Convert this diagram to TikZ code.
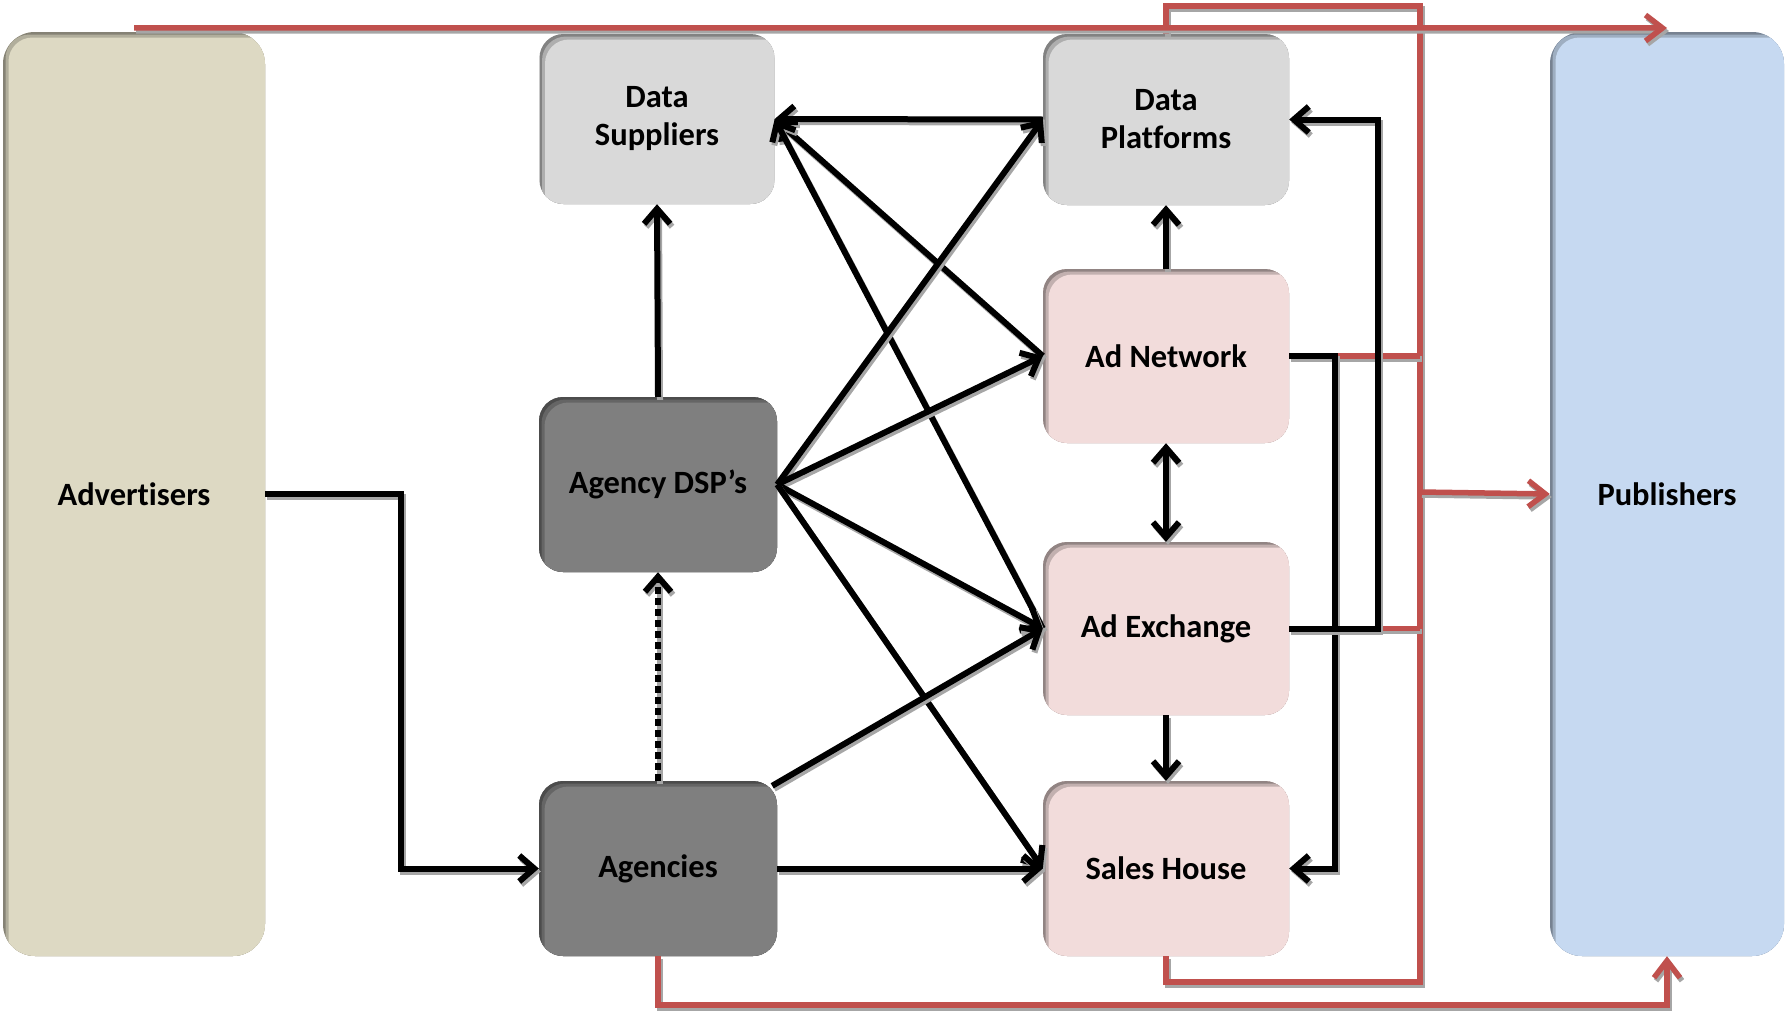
\documentclass[tikz,border=0pt]{standalone}
\usepackage{fontspec}
\setmainfont{Carlito}[Ligatures=NoCommon]
\usetikzlibrary{arrows.meta}
\definecolor{advc}{HTML}{DDD9C3}
\definecolor{pubc}{HTML}{C6D9F1}
\definecolor{datac}{HTML}{D9D9D9}
\definecolor{agc}{HTML}{7F7F7F}
\definecolor{pinkc}{HTML}{F2DCDB}
\definecolor{redc}{HTML}{C0504D}
\begin{document}
\begin{tikzpicture}[x=1pt,y=-1pt,
  box/.style={rectangle, rounded corners=24pt, fill=#1, text=black,
    font=\fontsize{32.5}{38}\selectfont\bfseries, align=center, inner sep=0pt,
    path picture={
      \fill[#1!60!black] (path picture bounding box.south west) rectangle (path picture bounding box.north east);
      \fill[#1!80!black, rounded corners=24pt] ([shift={(2.5pt,-2.5pt)}]path picture bounding box.north west) rectangle ([shift={(40pt,-40pt)}]path picture bounding box.south east);
      \fill[#1, rounded corners=24pt] ([shift={(5.5pt,-5.5pt)}]path picture bounding box.north west) rectangle ([shift={(40pt,-40pt)}]path picture bounding box.south east);
    }},
  bigbox/.style={box=#1, rounded corners=32pt},
  blk/.style={line width=6pt, draw=black, line join=miter,
    preaction={draw=black!35, line width=6pt, transform canvas={shift={(2pt,-3pt)}}}},
  redl/.style={line width=5.5pt, draw=redc,
    preaction={draw=black!35, line width=5.5pt, transform canvas={shift={(2pt,-3pt)}}}},
  arr/.style={-{Straight Barb[length=15pt,width=26pt]}},
  dbl/.style={{Straight Barb[length=15pt,width=26pt]}-{Straight Barb[length=15pt,width=26pt]}},
  rarr/.style={-{Straight Barb[length=17pt,width=26pt]}}
]
\useasboundingbox (0,0) rectangle (1786,1012);

% boxes
\node[bigbox=advc, minimum width=262pt, minimum height=924pt] (adv) at (134,494) {Advertisers};
\node[bigbox=pubc, minimum width=234pt, minimum height=924pt] (pub) at (1667,494) {Publishers};
\node[box=datac, minimum width=235pt, minimum height=170pt] (ds) at (657,119) {Data\\Suppliers};
\node[box=datac, minimum width=246pt, minimum height=171pt] (dp) at (1166,119.5) {Data\\Platforms};
\node[box=agc, minimum width=238pt, minimum height=175pt] (dsp) at (658,484.5) {Agency DSP’s};
\node[box=agc, minimum width=238pt, minimum height=175pt] (ag) at (658,868.5) {Agencies};
\node[box=pinkc, minimum width=246pt, minimum height=174pt] (an) at (1166,356) {Ad Network};
\node[box=pinkc, minimum width=246pt, minimum height=173pt] (ax) at (1166,628.5) {Ad Exchange};
\node[box=pinkc, minimum width=246pt, minimum height=175pt] (sh) at (1166,868.5) {Sales House};

% red connectors
\coordinate (toptip) at (1667,28);
\coordinate (rtop) at (1420,6);
\coordinate (rbot) at (1420,982);
\coordinate (rmid) at (1420,492);
\coordinate (bot) at (1667,1005);
\draw[redl] (dp.north) |- (rtop) -- (rbot) -| (sh.south);
\draw[redl] (an.east) -- (an.east -| rtop);
\draw[redl] (ax.east) -- (ax.east -| rtop);
\draw[redl, rarr] (rmid) -- (pub.west);
\draw[redl, rarr] ([yshift=4pt]adv.north) -- (toptip);
\draw[redl, rarr] (ag.south) |- (bot) -- (pub.south);

% black connectors
\draw[blk, arr] (adv.east) -- ++(136,0) |- (ag.west);
\draw[blk, arr, dash pattern=on 7pt off 4pt] (ag.north) -- (dsp.south);
\draw[blk, arr] (dsp.north) -- (ds.south);
\draw[blk, arr] (dp.west) -- (ds.east);
\draw[blk, arr] (an.west) -- (ds.east);
\draw[blk, arr] (ax.west) -- (ds.east);
\draw[blk, arr] (dsp.east) -- (dp.west);
\draw[blk, arr] (dsp.east) -- (an.west);
\draw[blk, arr] (dsp.east) -- (ax.west);
\draw[blk, arr] (dsp.east) -- (sh.west);
\draw[blk, arr] ([shift={(-5pt,-5pt)}]ag.north east) -- (ax.west);
\draw[blk, arr] (ag.east) -- (sh.west);
\draw[blk, arr] (an.north) -- (dp.south);
\draw[blk, dbl] (an.south) -- (ax.north);
\draw[blk, arr] (ax.south) -- (sh.north);
\draw[blk, arr] (an.east) -- ++(46,0) |- (sh.east);
\draw[blk, arr] (ax.east) -- ++(89,0) |- (dp.east);
\end{tikzpicture}
\end{document}
